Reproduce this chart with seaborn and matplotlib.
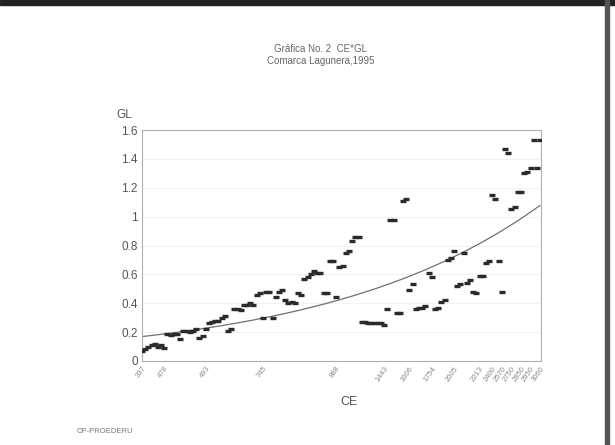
import numpy as np
import pandas as pd
import matplotlib.pyplot as plt
import seaborn as sns

sns.set_theme(style="white")
plt.rcParams['font.family'] = ['Liberation Sans', 'DejaVu Sans']

# GL values, ordered by CE (one point per municipality/record)
gl = [0.07, 0.08, 0.10, 0.11, 0.12, 0.10, 0.11, 0.09, 0.19, 0.18,
      0.19, 0.19, 0.15, 0.21, 0.21, 0.20, 0.21, 0.22, 0.16, 0.17,
      0.22, 0.26, 0.27, 0.28, 0.28, 0.30, 0.31, 0.21, 0.22, 0.36,
      0.36, 0.35, 0.39, 0.39, 0.40, 0.39, 0.46, 0.47, 0.30, 0.48,
      0.48, 0.30, 0.44, 0.48, 0.49, 0.42, 0.40, 0.41, 0.40, 0.47,
      0.46, 0.57, 0.58, 0.60, 0.62, 0.61, 0.61, 0.47, 0.47, 0.69,
      0.69, 0.44, 0.65, 0.66, 0.75, 0.76, 0.83, 0.86, 0.86, 0.27,
      0.27, 0.26, 0.26, 0.26, 0.26, 0.26, 0.25, 0.36, 0.98, 0.98,
      0.33, 0.33, 1.11, 1.12, 0.49, 0.53, 0.36, 0.37, 0.37, 0.38,
      0.61, 0.58, 0.36, 0.37, 0.41, 0.42, 0.70, 0.71, 0.76, 0.52,
      0.53, 0.75, 0.54, 0.56, 0.48, 0.47, 0.59, 0.59, 0.68, 0.69,
      1.15, 1.12, 0.69, 0.48, 1.47, 1.44, 1.05, 1.07, 1.17, 1.17,
      1.30, 1.31, 1.34, 1.53, 1.34, 1.53]

ce_tick_pos = [0, 7, 20, 38, 61, 76, 84, 91, 98, 106, 110, 113, 116, 119, 122, 125]
ce_tick_labels = ["337", "478", "493", "745", "888", "1443", "1606", "1754", "2005",
                  "2213", "2400", "2570", "2750", "2850", "2950", "3060"]

df = pd.DataFrame({'orden': np.arange(len(gl)), 'GL': gl})

# exponential trend line (as Excel does: ln(y) = a + b*x)
b, a = np.polyfit(df['orden'], np.log(df['GL']), 1)
xs = np.linspace(0, len(gl) - 1, 200)
trend = pd.DataFrame({'orden': xs, 'GL': np.exp(a + b * xs)})

fig = plt.figure(figsize=(6.15, 4.45), dpi=100)
ax = fig.add_axes([0.2309, 0.1888, 0.6488, 0.519])

ax.yaxis.grid(True, color='#f2f2f2', linewidth=0.8)
sns.lineplot(data=trend, x='orden', y='GL', ax=ax, color='#707070', linewidth=0.9)
sns.scatterplot(data=df, x='orden', y='GL', ax=ax, marker='_', s=14,
                linewidth=2.4, color='#2a2a2a', zorder=3)

ax.set_xlim(0, len(gl) - 0.7)
ax.set_ylim(0, 1.6)
ax.set_yticks([0, 0.2, 0.4, 0.6, 0.8, 1.0, 1.2, 1.4, 1.6])
ax.set_yticklabels(["0", "0.2", "0.4", "0.6", "0.8", "1", "1.2", "1.4", "1.6"],
                   fontsize=8.5, color='#555555')
ax.set_xticks(ce_tick_pos)
ax.set_xticklabels(ce_tick_labels, rotation=55, fontsize=5.5, color='#8a8a8a',
                   ha='right', rotation_mode='anchor')
ax.tick_params(axis='both', length=0, pad=3)
ax.set_xlabel('')
ax.set_ylabel('')
for sp in ax.spines.values():
    sp.set_color('#b0b0b0')
    sp.set_linewidth(0.8)

fig.text(0.521, 0.884, 'Gráfica No. 2  CE*GL', ha='center', fontsize=7, color='#666666')
fig.text(0.521, 0.857, 'Comarca Lagunera,1995', ha='center', fontsize=7, color='#666666')
fig.text(0.190, 0.735, 'GL', fontsize=8.5, color='#555555')
fig.text(0.553, 0.090, 'CE', fontsize=9, color='#555555')
fig.text(0.125, 0.027, 'CP-PROEDERU', fontsize=5.5, color='#777777')

# scan borders
fig.patches.append(plt.Rectangle((0, 0.988), 1, 0.012, transform=fig.transFigure,
                                 color='#222222', zorder=0))
fig.patches.append(plt.Rectangle((0.984, 0), 0.006, 1, transform=fig.transFigure,
                                 color='#555555', zorder=0))

fig.savefig('out.png', dpi=100)
